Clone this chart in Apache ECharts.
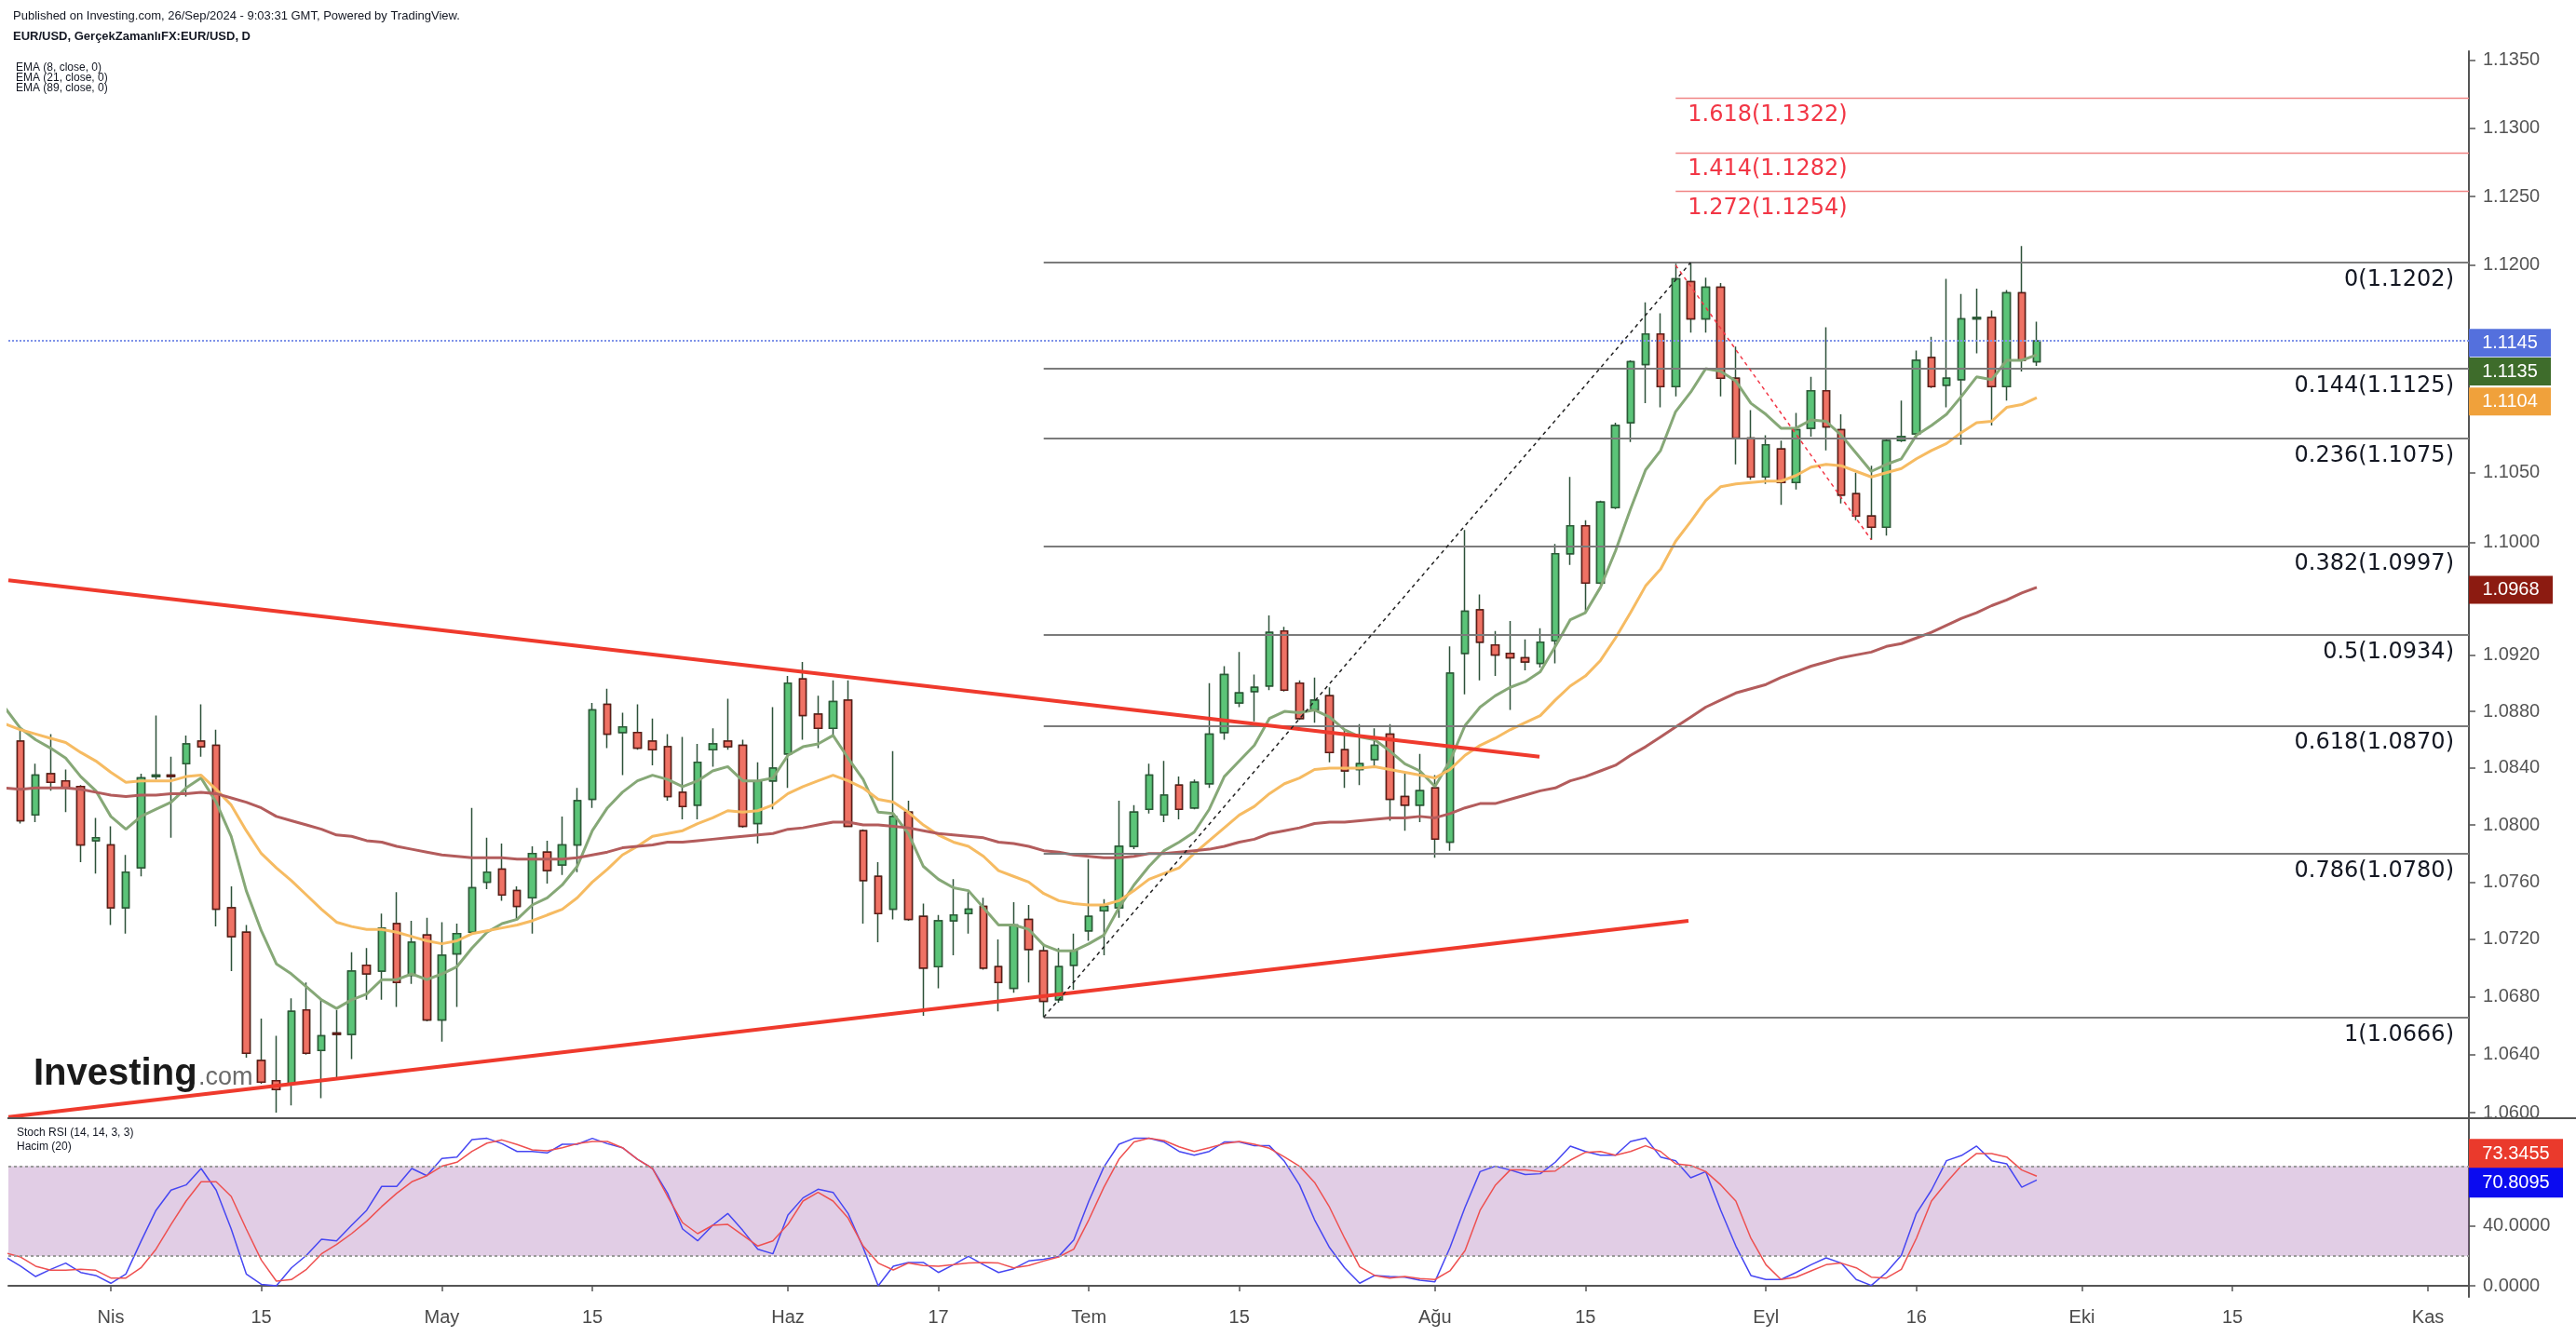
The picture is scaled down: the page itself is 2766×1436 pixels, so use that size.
<!DOCTYPE html>
<html>
<head>
<meta charset="utf-8">
<title>EUR/USD D</title>
<script src="https://cdn.jsdelivr.net/npm/echarts@6/dist/echarts.min.js"></script>
<style>
html, body { margin: 0; padding: 0; background: #fff; }
#chart { width: 2766px; height: 1436px; }
</style>
</head>
<body>
<div id="chart"></div>
<script>
// trading days on the time axis (weekdays only)
const monthDays = [
  ['2024-03', '21 22 25 26 27 28 29'],
  ['2024-04', '01 02 03 04 05 08 09 10 11 12 15 16 17 18 19 22 23 24 25 26 29 30'],
  ['2024-05', '01 02 03 06 07 08 09 10 13 14 15 16 17 20 21 22 23 24 27 28 29 30 31'],
  ['2024-06', '03 04 05 06 07 10 11 12 13 14 17 18 19 20 21 24 25 26 27 28'],
  ['2024-07', '01 02 03 04 05 08 09 10 11 12 15 16 17 18 19 22 23 24 25 26 29 30 31'],
  ['2024-08', '01 02 05 06 07 08 09 12 13 14 15 16 19 20 21 22 23 26 27 28 29 30'],
  ['2024-09', '02 03 04 05 06 09 10 11 12 13 16 17 18 19 20 23 24 25 26 27 30'],
  ['2024-10', '01 02 03 04 07 08 09 10 11 14 15 16 17 18 21 22 23 24 25 28 29 30 31'],
  ['2024-11', '01 04 05 06']
];
const dates = [];
monthDays.forEach(([m, s]) => s.split(' ').forEach(d => dates.push(m + '-' + d)));

const tickDates = ['2024-04-01','2024-04-15','2024-05-01','2024-05-15','2024-06-03','2024-06-17','2024-07-01',
  '2024-07-15','2024-08-01','2024-08-15','2024-09-02','2024-09-16','2024-10-01','2024-10-15','2024-11-01'];
const tickLabels = ['Nis','15','May','15','Haz','17','Tem','15','Ağu','15','Eyl','16','Eki','15','Kas'];

const open = [
  1.0911,1.0859,1.0807,1.0836,1.0831,1.0827,1.0789,
  1.0786,1.0742,1.0770,1.0834,1.0835,1.0843,1.0859,1.0856,1.0742,1.0725,1.0636,1.0622,1.0620,1.0671,1.0643,1.0655,1.0654,1.0702,1.0698,1.0731,1.0695,1.0723,
  1.0664,1.0710,1.0725,1.0760,1.0769,1.0754,1.0749,1.0781,1.0772,1.0786,1.0818,1.0885,1.0865,1.0865,1.0859,1.0855,1.0823,1.0814,1.0853,1.0859,1.0856,1.0801,1.0831,
  1.0850,1.0903,1.0878,1.0868,1.0888,1.0796,1.0764,1.0741,1.0809,1.0736,1.0701,1.0733,1.0738,1.0743,1.0701,1.0686,1.0734,1.0712,1.0678,1.0702,
  1.0726,1.0740,1.0742,1.0785,1.0811,1.0807,1.0828,1.0812,1.0829,1.0865,1.0886,1.0894,1.0898,1.0937,1.0900,1.0881,1.0891,1.0853,1.0839,1.0846,1.0864,1.0820,1.0814,
  1.0826,1.0788,1.0921,1.0952,1.0927,1.0921,1.0918,1.0914,1.0930,1.0992,1.1012,1.0971,1.1025,1.1086,1.1128,1.1150,1.1112,1.1188,1.1161,1.1184,1.1118,1.1075,
  1.1047,1.1067,1.1043,1.1082,1.1109,1.1081,1.1035,1.1019,1.1011,1.1073,1.1078,1.1133,1.1113,1.1117,1.1161,1.1162,1.1112,1.1180,1.1130
];
const high = [
  1.0930,1.0868,1.0843,1.0864,1.0839,1.0828,1.0805,
  1.0799,1.0779,1.0836,1.0877,1.0848,1.0863,1.0885,1.0867,1.0757,1.0730,1.0665,1.0653,1.0679,1.0690,1.0678,1.0671,1.0711,1.0714,1.0738,1.0753,1.0733,1.0735,
  1.0732,1.0731,1.0812,1.0791,1.0787,1.0757,1.0785,1.0789,1.0806,1.0826,1.0886,1.0896,1.0879,1.0885,1.0875,1.0864,1.0862,1.0857,1.0868,1.0889,1.0860,1.0844,1.0883,
  1.0905,1.0915,1.0891,1.0902,1.0902,1.0797,1.0774,1.0852,1.0817,1.0745,1.0737,1.0762,1.0753,1.0749,1.0720,1.0746,1.0744,1.0717,1.0714,1.0724,
  1.0776,1.0748,1.0817,1.0814,1.0843,1.0845,1.0834,1.0832,1.0900,1.0912,1.0922,1.0906,1.0948,1.0940,1.0902,1.0904,1.0897,1.0867,1.0871,1.0868,1.0871,1.0836,1.0850,
  1.0835,1.0926,1.1009,1.0963,1.0937,1.0944,1.0931,1.0939,1.0999,1.1047,1.1016,1.1030,1.1086,1.1131,1.1173,1.1165,1.1201,1.1202,1.1191,1.1187,1.1141,1.1095,
  1.1077,1.1073,1.1093,1.1119,1.1155,1.1092,1.1050,1.1055,1.1075,1.1102,1.1138,1.1148,1.1190,1.1179,1.1183,1.1167,1.1182,1.1214,1.1159
];
const low = [
  1.0840,1.0801,1.0802,1.0824,1.0809,1.0774,1.0766,
  1.0730,1.0724,1.0764,1.0832,1.0791,1.0820,1.0848,1.0729,1.0698,1.0638,1.0620,1.0600,1.0605,1.0640,1.0610,1.0624,1.0637,1.0678,1.0678,1.0673,1.0689,1.0663,
  1.0649,1.0673,1.0724,1.0755,1.0747,1.0734,1.0724,1.0759,1.0765,1.0767,1.0812,1.0854,1.0835,1.0853,1.0842,1.0817,1.0804,1.0804,1.0841,1.0853,1.0798,1.0787,1.0811,
  1.0826,1.0860,1.0854,1.0862,1.0799,1.0731,1.0718,1.0734,1.0733,1.0667,1.0686,1.0709,1.0724,1.0699,1.0670,1.0683,1.0690,1.0666,1.0676,1.0685,
  1.0719,1.0709,1.0735,1.0783,1.0808,1.0802,1.0804,1.0811,1.0826,1.0860,1.0883,1.0873,1.0895,1.0894,1.0874,1.0872,1.0844,1.0826,1.0828,1.0841,1.0803,1.0796,1.0802,
  1.0777,1.0782,1.0892,1.0902,1.0905,1.0881,1.0909,1.0911,1.0914,1.0984,1.0950,1.0970,1.1024,1.1072,1.1100,1.1097,1.1105,1.1151,1.1151,1.1105,1.1056,1.1045,
  1.1042,1.1027,1.1038,1.1076,1.1066,1.1028,1.1016,1.1002,1.1005,1.1072,1.1075,1.1111,1.1097,1.1070,1.1136,1.1084,1.1102,1.1123,1.1127
];
const close = [
  1.0849,1.0803,1.0835,1.0830,1.0826,1.0786,1.0791,
  1.0742,1.0767,1.0833,1.0835,1.0834,1.0857,1.0855,1.0741,1.0722,1.0641,1.0621,1.0616,1.0670,1.0641,1.0653,1.0654,1.0698,1.0696,1.0728,1.0690,1.0718,1.0664,
  1.0709,1.0724,1.0756,1.0767,1.0751,1.0743,1.0780,1.0768,1.0786,1.0817,1.0881,1.0864,1.0869,1.0854,1.0853,1.0820,1.0813,1.0844,1.0857,1.0855,1.0799,1.0831,1.0840,
  1.0900,1.0877,1.0868,1.0887,1.0799,1.0761,1.0738,1.0806,1.0734,1.0700,1.0733,1.0737,1.0741,1.0700,1.0690,1.0730,1.0713,1.0677,1.0701,1.0712,
  1.0736,1.0743,1.0785,1.0809,1.0835,1.0821,1.0811,1.0830,1.0864,1.0906,1.0893,1.0897,1.0936,1.0895,1.0875,1.0888,1.0851,1.0838,1.0843,1.0856,1.0818,1.0814,1.0824,
  1.0790,1.0907,1.0951,1.0929,1.0920,1.0918,1.0915,1.0929,1.0992,1.1012,1.0971,1.1029,1.1084,1.1130,1.1150,1.1112,1.1190,1.1161,1.1184,1.1118,1.1075,1.1047,
  1.1070,1.1043,1.1081,1.1109,1.1083,1.1034,1.1019,1.1011,1.1073,1.1076,1.1131,1.1112,1.1118,1.1161,1.1162,1.1112,1.1180,1.1131,1.1145
];

// moving averages as drawn on the chart
const ema8 = [
  1.0882,1.0868,1.0860,1.0854,1.0847,1.0834,1.0824,
  1.0806,1.0797,1.0806,1.0811,1.0816,1.0826,1.0833,1.0816,1.0792,1.0754,1.0726,1.0703,1.0696,1.0687,1.0678,1.0672,1.0678,1.0682,1.0692,1.0692,1.0696,1.0692,
  1.0696,1.0701,1.0714,1.0725,1.0731,1.0734,1.0744,1.0749,1.0758,1.0771,1.0796,1.0812,1.0823,1.0831,1.0835,1.0832,1.0827,1.0831,1.0838,1.0841,1.0831,1.0831,1.0833,
  1.0849,1.0855,1.0857,1.0863,1.0847,1.0832,1.0809,1.0808,1.0794,1.0771,1.0762,1.0756,1.0754,1.0742,1.0730,1.0730,1.0727,1.0716,1.0712,1.0712,
  1.0717,1.0723,1.0742,1.0758,1.0771,1.0782,1.0788,1.0795,1.0811,1.0834,1.0845,1.0856,1.0875,1.0880,1.0879,1.0881,1.0876,1.0867,1.0862,1.0860,1.0852,1.0843,1.0838,
  1.0827,1.0845,1.0870,1.0883,1.0891,1.0897,1.0901,1.0908,1.0926,1.0945,1.0950,1.0968,1.0994,1.1024,1.1052,1.1066,1.1094,1.1108,1.1125,1.1123,1.1116,1.1100,
  1.1092,1.1082,1.1082,1.1088,1.1087,1.1077,1.1064,1.1051,1.1056,1.1060,1.1077,1.1084,1.1092,1.1105,1.1119,1.1117,1.1131,1.1131,1.1135
];
const ema21 = [
  1.0871,1.0867,1.0864,1.0861,1.0858,1.0851,1.0845,
  1.0837,1.0830,1.0831,1.0831,1.0831,1.0834,1.0835,1.0825,1.0814,1.0796,1.0780,1.0770,1.0761,1.0751,1.0741,1.0732,1.0729,1.0727,1.0727,1.0725,1.0722,1.0719,
  1.0717,1.0719,1.0724,1.0726,1.0728,1.0730,1.0733,1.0737,1.0741,1.0749,1.0760,1.0769,1.0779,1.0785,1.0792,1.0794,1.0796,1.0801,1.0805,1.0810,1.0809,1.0810,1.0814,
  1.0822,1.0827,1.0831,1.0835,1.0831,1.0826,1.0818,1.0816,1.0809,1.0800,1.0793,1.0788,1.0785,1.0778,1.0768,1.0764,1.0760,1.0752,1.0747,1.0745,
  1.0744,1.0744,1.0747,1.0754,1.0762,1.0766,1.0770,1.0780,1.0789,1.0798,1.0807,1.0813,1.0822,1.0829,1.0833,1.0839,1.0840,1.0840,1.0840,1.0841,1.0839,1.0837,1.0835,
  1.0833,1.0839,1.0849,1.0856,1.0861,1.0867,1.0872,1.0877,1.0888,1.0898,1.0905,1.0916,1.0932,1.0950,1.0969,1.0981,1.1001,1.1015,1.1030,1.1040,1.1042,1.1043,
  1.1044,1.1044,1.1048,1.1054,1.1056,1.1055,1.1051,1.1047,1.1050,1.1053,1.1060,1.1066,1.1071,1.1079,1.1086,1.1087,1.1097,1.1099,1.1104
];
const ema89 = [
  1.0826,1.0825,1.0826,1.0826,1.0826,1.0825,1.0823,
  1.0821,1.0820,1.0821,1.0821,1.0822,1.0822,1.0823,1.0822,1.0819,1.0816,1.0812,1.0806,1.0803,1.0800,1.0797,1.0793,1.0792,1.0789,1.0788,1.0785,1.0783,1.0781,
  1.0779,1.0778,1.0777,1.0777,1.0777,1.0776,1.0776,1.0776,1.0776,1.0777,1.0779,1.0781,1.0784,1.0785,1.0786,1.0788,1.0788,1.0789,1.0790,1.0791,1.0792,1.0793,1.0794,
  1.0797,1.0798,1.0800,1.0802,1.0802,1.0800,1.0800,1.0799,1.0798,1.0796,1.0794,1.0793,1.0792,1.0791,1.0788,1.0787,1.0785,1.0782,1.0781,1.0779,
  1.0778,1.0777,1.0777,1.0778,1.0780,1.0780,1.0781,1.0782,1.0783,1.0785,1.0788,1.0790,1.0794,1.0796,1.0798,1.0801,1.0802,1.0802,1.0803,1.0804,1.0805,1.0805,1.0806,
  1.0805,1.0808,1.0812,1.0815,1.0815,1.0818,1.0821,1.0824,1.0826,1.0831,1.0834,1.0838,1.0842,1.0849,1.0855,1.0862,1.0869,1.0876,1.0883,1.0888,1.0893,1.0896,
  1.0899,1.0904,1.0908,1.0912,1.0915,1.0918,1.0920,1.0922,1.0926,1.0928,1.0932,1.0936,1.0941,1.0946,1.0950,1.0955,1.0959,1.0964,1.0968
];

// Stoch RSI (14, 14, 3, 3)
const stochK = [
  19.3,13.1,6.2,11.0,15.2,8.9,6.9,
  1.7,7.9,29.7,50.5,64.0,67.5,78.5,64.0,38.0,7.9,1.0,0,12.0,20.4,31.2,30.1,40.5,50.5,66.5,66.5,78.5,73.7,
  85.2,86.2,97.8,98.7,95.1,89.9,89.9,88.9,94.7,94.7,98.7,95.1,92.4,84.7,78.5,61.9,38.0,30.1,40.5,48.4,37.0,24.5,21.4,
  47.4,58.8,64.6,62.5,48.4,25.5,0,13.1,15.6,15.6,8.9,14.1,19.7,14.1,8.9,11.4,16.6,17.7,19.7,30.7,
  56.7,79.5,94.7,98.7,98.7,96.2,89.9,87.4,89.9,96.2,96.2,93.7,93.7,83.3,67.5,44.2,25.5,12.0,1.7,6.9,6.2,5.8,3.7,
  2.7,25.5,52.5,76.4,80.0,77.5,74.4,75.0,82.7,93.5,89.9,87.4,87.4,96.6,98.9,86.2,83.7,72.3,76.4,50.5,26.6,6.9,
  4.2,4.2,8.9,14.1,18.7,15.2,4.2,0.2,8.9,20.4,48.4,64.0,83.7,87.2,93.5,83.7,81.6,66.0,70.8095
];
const stochD = [
  22.0,19.3,13.1,10.4,10.4,11.0,10.4,
  5.2,5.2,12.0,24.5,41.1,56.7,69.6,69.6,59.8,38.0,17.2,3.1,4.2,11.0,21.4,27.6,34.9,43.2,53.0,61.9,69.6,73.7,
  80.0,82.7,89.9,95.5,97.6,94.5,91.0,90.3,92.4,95.1,96.6,96.6,92.4,84.7,78.5,59.8,42.2,34.9,40.5,41.1,33.9,26.6,30.1,
  41.1,56.7,62.5,56.7,45.3,26.6,15.2,10.6,15.2,13.5,13.1,14.1,15.2,15.6,15.2,12.0,13.5,16.6,19.3,24.5,
  44.2,66.0,84.7,96.2,98.7,97.2,93.0,89.9,92.4,95.1,96.6,94.7,92.0,86.2,80.0,69.2,52.5,31.8,12.7,6.9,5.2,6.2,4.8,
  4.2,10.0,23.5,50.5,67.1,77.5,77.5,76.4,76.8,84.1,89.3,89.9,87.4,89.9,93.7,89.9,81.6,80.6,76.4,67.5,56.7,31.8,
  14.1,4.2,5.8,10.0,14.1,15.2,12.0,5.8,5.2,11.0,31.8,56.7,69.2,80.6,88.5,88.5,86.2,77.5,73.3455
];

const priceTicks = [1.135,1.13,1.125,1.12,1.11,1.105,1.1,1.096,1.092,1.088,1.084,1.08,1.076,1.072,1.068,1.064,1.06];
const stochTicks = [0, 40];

// fibonacci retracement (Jun 26 low -> Aug 26 high) and extension levels
const fibLevels = [['0',1.1202],['0.144',1.1125],['0.236',1.1075],['0.382',1.0997],['0.5',1.0934],['0.618',1.0870],['0.786',1.0780],['1',1.0666]];
const extLevels = [['1.272',1.1254],['1.414',1.1282],['1.618',1.1322]];
const fibFrom = '2024-06-26';
const extFrom = '2024-08-23';

// hand drawn lines, [trading-day index, price]
const upperTrend = [[0.19, 1.0973], [101.95, 1.0848]];
const lowerTrend = [[0.19, 1.0597], [111.85, 1.0733]];
const riseLeg = [['2024-06-26', 1.0666], ['2024-08-26', 1.1202]];
const fallLeg = [['2024-08-23', 1.1200], ['2024-09-11', 1.1002]];

const N = close.length;
console.assert([open, high, low, ema8, ema21, ema89, stochK, stochD].every(a => a.length === N), 'length mismatch');

const ln = Math.log;
const di = d => dates.indexOf(d);
const X_MIN = 0.19, X_MAX = 163.72;
const P_MIN = 1.05962, P_MAX = 1.13568;
const S_MIN = -7.48, S_MAX = 112.15;
const FONT = '"Liberation Sans", Arial, sans-serif';

// the first bar sits under the left edge of the pane, only a sliver of it shows
const onPane = d => d[0] >= X_MIN;
const wicks = close.map((c, k) => [k, ln(open[k]), ln(c), ln(low[k]), ln(high[k])]).filter(onPane);
const bodies = close.map((c, k) => [k, ln(open[k]), ln(c), ln(Math.min(open[k], c)), ln(Math.max(open[k], c))]).filter(onPane);
const logLine = arr => arr.map((v, k) => [k, ln(v)]);
const pts = arr => arr.map(([x, p]) => [typeof x === 'string' ? di(x) : x, ln(p)]);
const tickIdx = tickDates.map(di);

const badge = (val, text, color, dy, w, h) => ({
  coord: [X_MAX, val],
  symbol: 'rect', symbolSize: [w, h || 30], symbolOffset: [w / 2, dy],
  itemStyle: { color: color },
  label: { show: true, formatter: text, color: '#fff', fontSize: 20, fontFamily: FONT }
});

const fibLines = fibLevels.map(([r, p]) => [
  { coord: [di(fibFrom), ln(p)], label: { formatter: r + '(' + p.toFixed(4) + ')' } },
  { coord: [X_MAX, ln(p)] }
]);
const extLines = extLevels.map(([r, p]) => [
  { coord: [di(extFrom), ln(p)],
    lineStyle: { color: '#f08585', width: 1.4, type: 'solid' },
    label: { formatter: r + '(' + p.toFixed(4) + ')', position: 'insideStartBottom', distance: [13, 6], color: '#f23645' } },
  { coord: [X_MAX, ln(p)] }
]);

const chart = echarts.init(document.getElementById('chart'));
const option = {
  animation: false,
  backgroundColor: '#ffffff',
  grid: [
    { left: 9, right: 115, top: 55, height: 1146, outerBoundsMode: 'none' },
    { left: 9, right: 115, top: 1201, height: 192, outerBoundsMode: 'none' }
  ],
  xAxis: [
    { type: 'value', gridIndex: 0, min: X_MIN, max: X_MAX, show: false },
    {
      type: 'value', gridIndex: 1, min: X_MIN, max: X_MAX,
      axisLine: { show: true, lineStyle: { color: '#555', width: 2 } },
      axisTick: { show: true, customValues: tickIdx, length: 6, lineStyle: { color: '#555', width: 1.5 } },
      axisLabel: { customValues: tickIdx, formatter: v => tickLabels[tickIdx.indexOf(v)], color: '#4a4a4a', fontSize: 20, fontFamily: FONT, margin: 12 },
      splitLine: { show: false }
    }
  ],
  yAxis: [
    {
      type: 'value', gridIndex: 0, position: 'right', min: ln(P_MIN), max: ln(P_MAX),
      axisLine: { show: true, lineStyle: { color: '#555', width: 2 } },
      axisTick: { show: true, customValues: priceTicks.map(ln), length: 7, lineStyle: { color: '#555', width: 1.5 } },
      axisLabel: { customValues: priceTicks.map(ln), formatter: v => Math.exp(v).toFixed(4), color: '#555', fontSize: 20, fontFamily: FONT, margin: 15 },
      splitLine: { show: false }
    },
    {
      type: 'value', gridIndex: 1, position: 'right', min: S_MIN, max: S_MAX,
      axisLine: { show: true, lineStyle: { color: '#555', width: 2 } },
      axisTick: { show: true, customValues: stochTicks, length: 7, lineStyle: { color: '#555', width: 1.5 } },
      axisLabel: { customValues: stochTicks, formatter: v => v.toFixed(4), color: '#555', fontSize: 20, fontFamily: FONT, margin: 15 },
      splitLine: { show: false }
    }
  ],
  series: [
    {
      name: 'wicks', type: 'candlestick', xAxisIndex: 0, yAxisIndex: 0, z: 2,
      barWidth: 8, data: wicks,
      itemStyle: { color: 'rgba(0,0,0,0)', color0: 'rgba(0,0,0,0)', borderColor: '#2d5139', borderColor0: '#2d5139', borderWidth: 1.5 },
      markLine: {
        symbol: 'none', silent: true, precision: 8,
        lineStyle: { color: '#7b7b7b', width: 2, type: 'solid' },
        label: { show: true, position: 'insideEndBottom', distance: [16, 7], color: '#131722', fontSize: 24, fontFamily: '"DejaVu Sans", sans-serif' },
        data: [
          { yAxis: ln(close[N - 1]), lineStyle: { color: '#7f93e8', width: 2, type: [2, 2] }, label: { show: false } },
          ...fibLines, ...extLines
        ]
      },
      markPoint: {
        silent: true,
        data: [
          badge(ln(close[N - 1]), close[N - 1].toFixed(4), '#5470dd', 2, 88),
          badge(ln(ema8[N - 1]), ema8[N - 1].toFixed(4), '#3e6c2b', 18, 88),
          badge(ln(ema21[N - 1]), ema21[N - 1].toFixed(4), '#f0a13b', 4, 88),
          badge(ln(ema89[N - 1]), ema89[N - 1].toFixed(4), '#8c1b11', 2.5, 90)
        ]
      }
    },
    {
      name: 'EUR/USD', type: 'candlestick', xAxisIndex: 0, yAxisIndex: 0, z: 3,
      barWidth: 8, data: bodies,
      itemStyle: { color: '#5bc478', color0: '#ef7264', borderColor: '#2b5a36', borderColor0: '#5e1b16', borderWidth: 1.5 }
    },
    { name: 'EMA 8', type: 'line', xAxisIndex: 0, yAxisIndex: 0, z: 4, symbol: 'none', data: logLine(ema8),
      lineStyle: { color: '#86a877', width: 3 } },
    { name: 'EMA 21', type: 'line', xAxisIndex: 0, yAxisIndex: 0, z: 4, symbol: 'none', data: logLine(ema21),
      lineStyle: { color: '#f6bb62', width: 3 } },
    { name: 'EMA 89', type: 'line', xAxisIndex: 0, yAxisIndex: 0, z: 4, symbol: 'none', data: logLine(ema89),
      lineStyle: { color: '#b35c5c', width: 3 } },
    { name: 'upper', type: 'line', xAxisIndex: 0, yAxisIndex: 0, z: 5, symbol: 'none', data: pts(upperTrend),
      lineStyle: { color: '#ef3a2d', width: 4 } },
    { name: 'lower', type: 'line', xAxisIndex: 0, yAxisIndex: 0, z: 5, symbol: 'none', data: pts(lowerTrend),
      lineStyle: { color: '#ef3a2d', width: 4 } },
    { name: 'rise', type: 'line', xAxisIndex: 0, yAxisIndex: 0, z: 5, symbol: 'none', data: pts(riseLeg),
      lineStyle: { color: '#222', width: 1.5, type: [4, 4] } },
    { name: 'fall', type: 'line', xAxisIndex: 0, yAxisIndex: 0, z: 5, symbol: 'none', data: pts(fallLeg),
      lineStyle: { color: '#f23645', width: 1.5, type: [4, 4] } },
    {
      name: 'band', type: 'line', xAxisIndex: 1, yAxisIndex: 1, z: 1, symbol: 'none',
      data: stochK.map((v, k) => [k, v]), lineStyle: { opacity: 0 },
      markArea: { silent: true, itemStyle: { color: 'rgba(155, 89, 170, 0.3)' }, data: [[{ yAxis: 20 }, { yAxis: 80 }]] },
      markLine: { silent: true, symbol: 'none', precision: 8, label: { show: false },
        lineStyle: { color: '#9a9a9a', width: 2, type: [3, 3] }, data: [{ yAxis: 80 }, { yAxis: 20 }] }
    },
    {
      name: 'K', type: 'line', xAxisIndex: 1, yAxisIndex: 1, z: 3, symbol: 'none',
      data: stochK.map((v, k) => [k, v]), lineStyle: { color: '#4646f2', width: 1.5 },
      markPoint: {
        silent: true,
        data: [
          badge(stochD[N - 1], stochD[N - 1].toFixed(4), '#ea3a2c', -24, 101, 32),
          badge(stochK[N - 1], stochK[N - 1].toFixed(4), '#0b0bf0', 3, 101, 32)
        ]
      }
    },
    {
      name: 'D', type: 'line', xAxisIndex: 1, yAxisIndex: 1, z: 3, symbol: 'none',
      data: stochD.map((v, k) => [k, v]), lineStyle: { color: '#ee5050', width: 1.5 }
    }
  ],
  graphic: [
    { type: 'line', shape: { x1: 8, y1: 1201, x2: 2766, y2: 1201 }, style: { stroke: '#555', lineWidth: 2 }, z: 10 },
    { type: 'text', x: 14, y: 17, style: { text: 'Published on Investing.com, 26/Sep/2024 - 9:03:31 GMT, Powered by TradingView.', font: '13px ' + FONT, fill: '#131722', verticalAlign: 'middle' } },
    { type: 'text', x: 14, y: 39, style: { text: 'EUR/USD, GerçekZamanlıFX:EUR/USD, D', font: 'bold 13px ' + FONT, fill: '#131722', verticalAlign: 'middle' } },
    { type: 'text', x: 17, y: 73, style: { text: 'EMA (8, close, 0)', font: '12px ' + FONT, fill: '#131722', verticalAlign: 'middle' } },
    { type: 'text', x: 17, y: 84, style: { text: 'EMA (21, close, 0)', font: '12px ' + FONT, fill: '#131722', verticalAlign: 'middle' } },
    { type: 'text', x: 17, y: 95, style: { text: 'EMA (89, close, 0)', font: '12px ' + FONT, fill: '#131722', verticalAlign: 'middle' } },
    { type: 'text', x: 18, y: 1217, style: { text: 'Stoch RSI (14, 14, 3, 3)', font: '12px ' + FONT, fill: '#131722', verticalAlign: 'middle' } },
    { type: 'text', x: 18, y: 1232, style: { text: 'Hacim (20)', font: '12px ' + FONT, fill: '#131722', verticalAlign: 'middle' } },
    { type: 'text', x: 36, y: 1154, z: 20, style: { text: 'Investing', font: 'bold 40px ' + FONT, fill: '#1a1a1a', verticalAlign: 'middle' } },
    { type: 'text', x: 213, y: 1158, z: 20, style: { text: '.com', font: '27px ' + FONT, fill: '#6b6b6b', verticalAlign: 'middle' } }
  ]
};
chart.setOption(option);
</script>
</body>
</html>
